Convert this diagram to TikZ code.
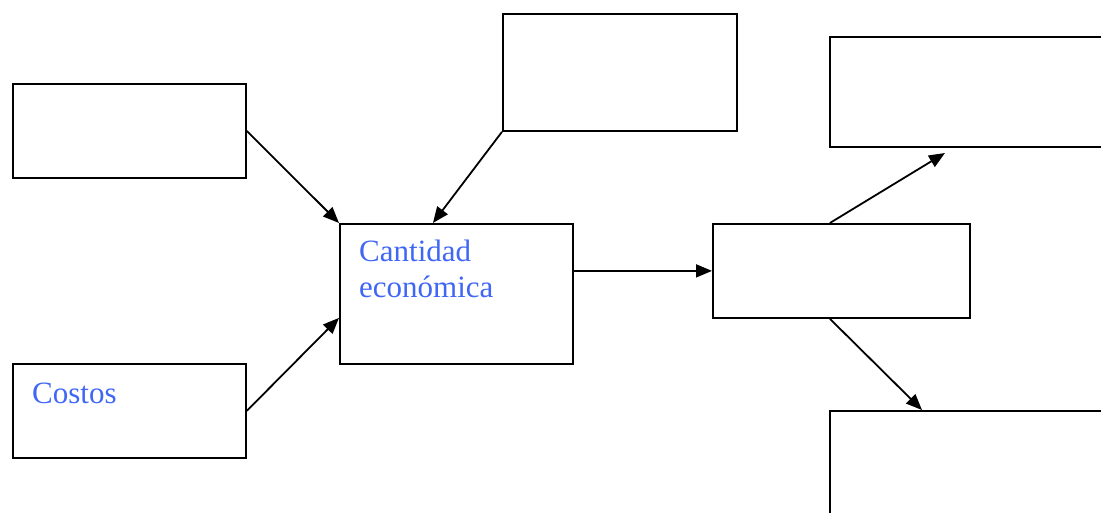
\documentclass[tikz,border=0pt]{standalone}
\usepackage{fontspec}
\setmainfont{Liberation Serif}
\usetikzlibrary{arrows.meta}
\definecolor{txtblue}{HTML}{3F66F5}
\tikzset{
  box/.style={draw=black, line width=1.8pt, fill=none, inner sep=0pt, anchor=north west},
  conn/.style={line width=1.8pt, -{Triangle[length=16pt,width=13pt]}},
  lbl/.style={text=txtblue, inner sep=0pt, align=left, font=\fontsize{31}{36}\selectfont}
}
\begin{document}
\begin{tikzpicture}[x=1pt,y=-1pt]
\useasboundingbox (0,0) rectangle (1101,513);
\begin{scope}
\clip (0,0) rectangle (1101,513);
\node[box, minimum width=233pt, minimum height=94pt] (A) at (12,83) {};
\node[box, minimum width=233pt, minimum height=94pt] (B) at (12,363) {};
\node[box, minimum width=233pt, minimum height=140pt] (C) at (339,223) {};
\node[box, minimum width=234pt, minimum height=117pt] (D) at (502,13) {};
\node[box, minimum width=257pt, minimum height=94pt] (E) at (712,223) {};
\node[box, minimum width=300pt, minimum height=110pt] (F) at (829,36) {};
\node[box, minimum width=300pt, minimum height=130pt] (G) at (829,410) {};
\end{scope}
\node[lbl, anchor=base west] (tc) at (359,298) {Cantidad\\económica};
\node[lbl, anchor=base west] (tb) at (32,403) {Costos};
\coordinate (Ftip) at (945,153);
\coordinate (Gtip) at (922,410);
\draw[conn] (A.east) -- (C.north west);
\draw[conn] (B.east) -- ([yshift=-24pt]C.west);
\draw[conn] (D.south west) -- ([xshift=-23.5pt]C.north);
\draw[conn] ([yshift=23pt]C.east) -- (E.west);
\draw[conn] ([xshift=-11.5pt]E.north) -- (Ftip);
\draw[conn] ([xshift=-11.5pt]E.south) -- (Gtip);
\end{tikzpicture}
\end{document}
